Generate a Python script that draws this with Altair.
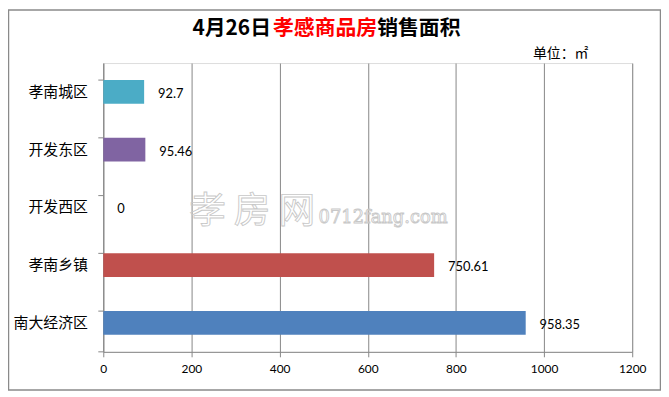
import altair as alt
import pandas as pd

categories = ["孝南城区", "开发东区", "开发西区", "孝南乡镇", "南大经济区"]
values = [92.7, 95.46, 0, 750.61, 958.35]
value_labels = ["92.7", "95.46", "0", "750.61", "958.35"]
colors = ["#4BACC6", "#8064A2", "#9BBB59", "#C0504D", "#4F81BD"]
x_ticks = [0, 200, 400, 600, 800, 1000, 1200]

df = pd.DataFrame({"cat": categories, "val": values, "lab": value_labels})
one = alt.Data(values=[{"a": 1}])

CJK = "Noto Sans CJK SC"
NUM = "Lato"
GRAY = "#878787"
W = 533

y_enc = alt.Y(
    "cat:N", sort=categories, title=None,
    scale=alt.Scale(paddingInner=0.59, paddingOuter=0.295),
    axis=alt.Axis(labelFont=CJK, labelFontSize=15, labelColor="#000000",
                  labelPadding=16, ticks=False, domainColor=GRAY, domainWidth=1),
)
x_enc = alt.X(
    "val:Q", title=None,
    scale=alt.Scale(domain=[0, 1200], nice=False),
    axis=alt.Axis(values=x_ticks, format="d", labelFont=NUM, labelFontSize=12,
                  labelColor="#000000", labelPadding=7, tickSize=5, tickColor=GRAY,
                  domainColor=GRAY, gridColor=GRAY, gridWidth=1, gridOpacity=1,
                  grid=True, labelFlush=False),
)

bars = alt.Chart(df).mark_bar().encode(
    x=x_enc, y=y_enc,
    color=alt.Color("cat:N", sort=categories,
                    scale=alt.Scale(domain=categories, range=colors), legend=None),
)

labels = alt.Chart(df).mark_text(align="left", baseline="middle", dx=14, dy=2,
                                 font=NUM, fontSize=13, color="#000000").encode(
    x="val:Q", y=alt.Y("cat:N", sort=categories), text="lab:N")

yticks = alt.Chart(df).mark_rule(color=GRAY, strokeWidth=1).encode(
    y=alt.Y("cat:N", sort=categories, bandPosition=0),
    x=alt.value(-5), x2=alt.value(0))
ytick_bottom = alt.Chart(one).mark_rule(color=GRAY, strokeWidth=1).encode(
    y=alt.value(291), x=alt.value(-5), x2=alt.value(0))

border = alt.Chart(one).mark_rect(fill=None, stroke="#8a8a8a", strokeWidth=1.5).encode(
    x=alt.value(-95.5), x2=alt.value(W + 28.5), y=alt.value(-53.5), y2=alt.value(329.5))

t1 = alt.Chart(one).mark_text(text="4月26日", align="right", baseline="middle",
                              font=CJK, fontSize=21, fontWeight="bold", color="#000000").encode(
    x=alt.value(169), y=alt.value(-34))
t2 = alt.Chart(one).mark_text(text="孝感商品房", align="left", baseline="middle",
                              font=CJK, fontSize=21, fontWeight="bold", color="#FF0000").encode(
    x=alt.value(171), y=alt.value(-34))
t3 = alt.Chart(one).mark_text(text="销售面积", align="left", baseline="middle",
                              font=CJK, fontSize=21, fontWeight="bold", color="#000000").encode(
    x=alt.value(276), y=alt.value(-34))
unit = alt.Chart(one).mark_text(text="单位：㎡", align="left", baseline="middle",
                                font=CJK, fontSize=14, color="#000000").encode(
    x=alt.value(433), y=alt.value(-9))

wm_chars = ["孝", "房", "网"]
wm_x = [105, 150, 195]
wm_layers = [
    alt.Chart(one).mark_text(text=c, align="center", baseline="middle",
                             font=CJK, fontSize=37, fill="#ffffff", fillOpacity=0,
                             stroke="#c8c8c8", strokeWidth=0.9).encode(
        x=alt.value(xp), y=alt.value(150))
    for c, xp in zip(wm_chars, wm_x)
]
wm2 = alt.Chart(one).mark_text(text="0712fang.com", align="left", baseline="middle",
                               font="DejaVu Serif", fontSize=18, fill="#ffffff", fillOpacity=0,
                               stroke="#c8c8c8", strokeWidth=0.9).encode(
    x=alt.value(217), y=alt.value(156))

chart = alt.layer(bars, labels, yticks, ytick_bottom, *wm_layers, wm2,
                  t1, t2, t3, unit, border).properties(
    width=W, height=291,
    autosize=alt.AutoSizeParams(type="none"),
    padding={"left": 96, "top": 54, "right": 658 - 96 - W, "bottom": 39},
).configure_view(stroke=None).configure(background="#ffffff")

chart.save("out.html", embed_options={"renderer": "svg", "actions": False})
